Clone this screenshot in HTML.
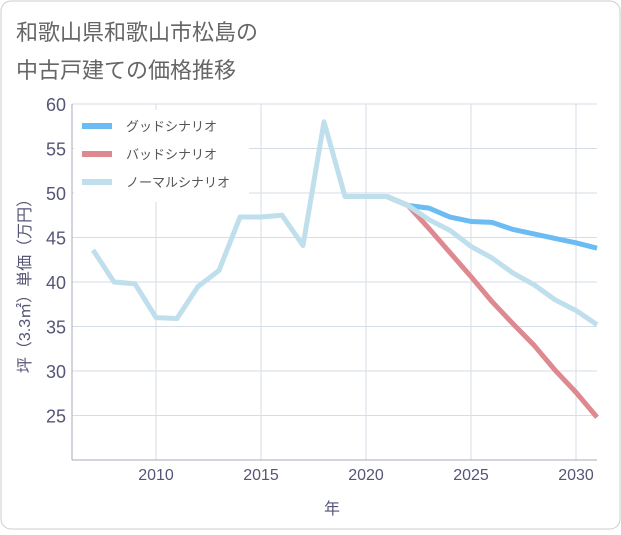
<!DOCTYPE html>
<html><head><meta charset="utf-8"><style>
body{margin:0;background:#fff;font-family:"Liberation Sans","Noto Sans CJK JP",sans-serif;}
#wrap{position:relative;width:621px;height:530px;}
</style></head><body>
<div id="wrap">
<svg id="chart" width="621" height="530" xmlns="http://www.w3.org/2000/svg">
<rect x="1" y="1" width="619" height="528" rx="10" fill="#fff" stroke="#ccc"/>
<text x="16" y="40" font-size="22" fill="#666">和歌山県和歌山市松島の</text>
<text x="16" y="78" font-size="22" fill="#666">中古戸建ての価格推移</text>
<g id="grid"></g><g id="series"></g><g id="legend"></g>
<text x="332" y="514" font-size="16" fill="#557" text-anchor="middle">年</text>
<text transform="translate(30,282) rotate(-90)" font-size="16" fill="#557" text-anchor="middle">坪（3.3㎡）単価（万円）</text>
</svg>
</div>
<script>
const years=[2007,2008,2009,2010,2011,2012,2013,2014,2015,2016,2017,2018,2019,2020,2021,2022,2023,2024,2025,2026,2027,2028,2029,2030,2031];
const normalValues=[43.6,40,39.8,36,35.9,39.5,41.3,47.3,47.3,47.5,44.1,58,49.6,49.6,49.6,48.6,47,45.8,44,42.7,41,39.7,38,36.8,35.2];
const goodYears=[2021,2022,2023,2024,2025,2026,2027,2028,2029,2030,2031];
const goodValues=[49.6,48.6,48.3,47.3,46.8,46.7,45.9,45.4,44.9,44.4,43.8];
const badValues=[49.6,48.6,46,43.3,40.6,37.8,35.3,32.9,30.1,27.6,24.8];
const yTicks=[25,30,35,40,45,50,55,60];
const xTicks=[2010,2015,2020,2025,2030];
const NS="http://www.w3.org/2000/svg";
const X0=72,X1=597,Y0=104,Y1=460;
const x=v=>X0+(v-2006)/(2031-2006)*(X1-X0);
const y=v=>Y1-(v-20)/(60-20)*(Y1-Y0);
function mk(t,a,p){const e=document.createElementNS(NS,t);for(const k in a)e.setAttribute(k,a[k]);p.appendChild(e);return e;}
const g=document.getElementById('grid');
for(const t of yTicks){
 const l=mk('line',{x1:X0,x2:X1,y1:y(t),y2:y(t),stroke:'#d5dde6'},g);
 
 
 const tx=mk('text',{x:66,y:y(t)+7,'font-size':18,fill:'#557','text-anchor':'end'},g);tx.textContent=t;
 
 
}
for(const t of xTicks){
 const l=mk('line',{x1:x(t),x2:x(t),y1:Y0,y2:Y1,stroke:'#d5dde6'},g);
 
 
 const tx=mk('text',{x:x(t),y:480,'font-size':16,fill:'#557','text-anchor':'middle'},g);tx.textContent=t;
 
 
}
const ax=mk('line',{x1:X0,x2:X1,y1:Y1,y2:Y1,stroke:'#aab'},g);


const ay=mk('line',{x1:X0,x2:X0,y1:Y0,y2:Y1,stroke:'#aab'},g);


const s=document.getElementById('series');
function line(xs,vs,c,n){
 const p=mk('polyline',{points:xs.map((v,i)=>x(v)+','+y(vs[i])).join(' '),fill:'none',stroke:c,'stroke-width':5,'stroke-linejoin':'round'},s);
 
 
}
line(goodYears,goodValues,'#6bbcf2','good-scenario-line');
line(goodYears,badValues,'#de8890','bad-scenario-line');
line(years,normalValues,'#bfdfec','normal-scenario-line');
const lg=document.getElementById('legend');
const bg=mk('rect',{x:74,y:110,width:175,height:92,fill:'#fff'},lg);


const items=[['グッドシナリオ','#6bbcf2'],['バッドシナリオ','#de8890'],['ノーマルシナリオ','#bfdfec']];
items.forEach((it,i)=>{
 const yy=126+i*28;
 const r=mk('rect',{x:82,y:yy-3,width:30,height:6,fill:it[1]},lg);
 
 
 const t=mk('text',{x:126,y:yy+5,'font-size':13,fill:'#555'},lg);t.textContent=it[0];
 
 
});
</script>
</body></html>
